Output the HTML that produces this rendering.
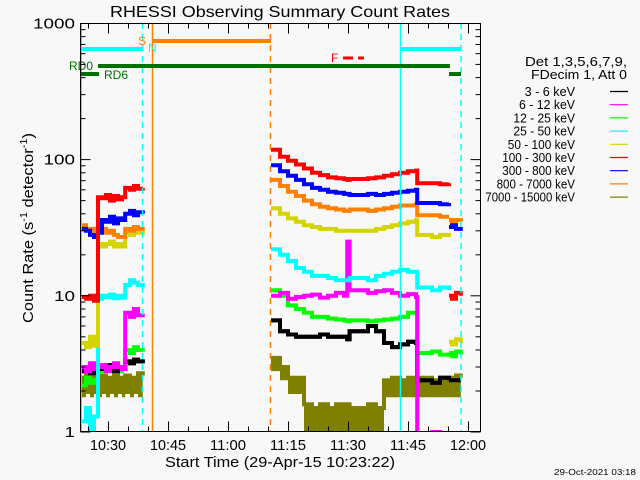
<!DOCTYPE html>
<html><head><meta charset="utf-8"><style>
html,body{margin:0;padding:0;background:#f8f8f8;}
svg{display:block;font-family:"Liberation Sans",sans-serif;}
</style></head><body>
<svg id="chart" width="640" height="480" viewBox="0 0 640 480" xmlns="http://www.w3.org/2000/svg">
<rect x="0" y="0" width="640" height="480" fill="#f8f8f8"/>
<defs><clipPath id="pc"><rect x="81" y="23" width="400" height="409"/></clipPath></defs>
<text x="280" y="17" font-size="16" text-anchor="middle" textLength="340" lengthAdjust="spacingAndGlyphs" fill="#000">RHESSI Observing Summary Count Rates</text>
<g id="series" clip-path="url(#pc)"></g>
<g id="overlay"></g>
<g id="axes"></g>
<text x="280" y="467" font-size="15" text-anchor="middle" textLength="230" lengthAdjust="spacingAndGlyphs">Start Time (29-Apr-15 10:23:22)</text>
<text transform="translate(33,228) rotate(-90)" font-size="15" text-anchor="middle" textLength="190" lengthAdjust="spacingAndGlyphs">Count Rate (s<tspan font-size="10" dy="-6">-1</tspan><tspan dy="6"> detector</tspan><tspan font-size="10" dy="-6">-1</tspan><tspan dy="6">)</tspan></text>
<g id="legend"></g>
<text x="636" y="475" font-size="8" text-anchor="end" textLength="82" lengthAdjust="spacingAndGlyphs">29-Oct-2021 03:18</text>
</svg>
<script>
// minutes since 10:30
const t1 = [-6.6,-5.5,-4.5,-3.5,-2.5,-1.5,-0.5,0.5,1.5,2.5,3.5,4.3,5.5,6.5,7.5,8.7];
const t2 = [40.75,43,45,47,49,51,53,55,57,59,59.8,60.4,65,67,69,71,73,75,77,77.3,81,83,85.25];
const t3 = [85.25,86,87,88.2];
const seriesNames = ["3 - 6 keV","6 - 12 keV","12 - 25 keV","25 - 50 keV","50 - 100 keV","100 - 300 keV","300 - 800 keV","800 - 7000 keV","7000 - 15000 keV"];
const seriesColors = ["#000000","#ff00ff","#00ff00","#00ffff","#d4d400","#ff0000","#0000ff","#ff8000","#808000"];
const black1 = [2.8,3,2.7,2.9,3,2.9,3.1,3,2.8,3,2.9,3.3,3.2,3.4,3.3,3.2];
const black2 = [6.6,5.5,5.2,5,5,5,5.2,5,5,5,4.8,5.5,6,5.5,4.5,4.2,4.4,4.6,4.5,2.4,2.3,2.5,2.4];
const black3 = [2.4,2.4,2.4,2.4];
const magenta1 = [3,2.8,3.2,2.9,3,3.1,2.8,3,3.2,3,2.9,7.5,7,8,7.2,7.4];
const magenta2 = [10,10.5,9.5,9.8,10,10.2,9.7,10,10.5,10,25,11,10.5,10.8,11,10.5,10,10.3,9.8,0.9,1.0,0.9,0.9];
const magenta3 = [0.9,0.9,0.9,0.9];
const green1 = [2.2,2.5,2.3,2.4,3,2.8,3.1,2.9,3,2.8,3,4,3.8,4.2,4,3.9];
const green2 = [11,10,8.5,8,7.5,7,7,6.8,6.7,6.6,6.5,6.6,6.5,6.6,6.7,6.8,7,7.5,7.5,3.8,3.9,3.7,3.8];
const green3 = [3.8,3.6,3.9,3.7];
const cyan1 = [1.2,1.5,1,1.3,9.5,10,9.8,10.2,9.6,10,9.7,12,13,12.5,12,11.5];
const cyan2 = [22,20,18,16,15,14,14,13.5,13,13,13,13.5,13,14,14.5,15,15.5,15,15,11.5,11,11.5,11];
const cyan3 = [0.9,0.9,0.9,0.9];
const yellow1 = [4.5,4.2,5,4.3,24,23,24,25,23,24,23,29,28,30,29,28];
const yellow2 = [44,40,37,35,33,32,31,31,30,30,30,30,30,31,32,33,34,35,36,28,27,28,27];
const yellow3 = [4.6,4.4,4.8,4.5];
const red1 = [9.8,9.5,10,9.2,53,52,55,50,54,51,53,62,60,64,61,62];
const red2 = [118,105,98,92,86,80,77,74,73,72,71,72,73,74,76,78,80,82,83,67,67,66,67];
const red3 = [10,9.5,10.5,10];
const blue1 = [31,30,28,27,29,36,35,38,34,37,36,40,42,39,41,40];
const blue2 = [91,82,76,71,66,62,60,58,57,56,56,55,56,55,56,57,58,59,60,48,48,47,48];
const blue3 = [32,33,31,32];
const orange1 = [33,31,30,31,30,31,29,30,28,27,27,31,30,32,31,30];
const orange2 = [71,64,58,54,50,47,45,44,43,42,42,43,42,43,44,45,46,46,47,39,39,38,38];
const orange3 = [36,34,36,35];
const olive1 = [2.5,2.7,2.3,2.6,2.4,2.6,2.2,2.5,2.7,2.3,2.5,2.6,2.4,2.5,2.7,2.6];
const olive2 = [3.5,3,2.5,2.5,1.6,1.5,1.6,1.5,1.6,1.5,1.6,1.5,1.6,1.5,2.4,2.5,2.4,2.5,2.4,2.5,2.4,2.5,2.4];
const olive3 = [2.5,2.4,2.6,2.5];
const oliveLo1 = [1.8,1.9,1.8,1.9,1.8,1.9,1.8,1.9,1.8,1.9,1.8,1.9,1.8,1.9,1.8,1.9];
const oliveLo2 = [2.8,2.4,1.9,1.9,0.9,0.9,0.9,0.9,0.9,0.9,0.9,0.9,0.9,0.9,1.8,1.8,1.8,1.8,1.8,1.8,1.8,1.8,1.8];
const oliveLo3 = [1.8,1.8,1.8,1.8];
const yTickValues = [1,10,100,1000];
const yTickLabels = ["1","10","100","1000"];
const xTickMinutes = [0,15,30,45,60,75,90];
const xTickLabels = ["10:30","10:45","11:00","11:15","11:30","11:45","12:00"];

const NS = "http://www.w3.org/2000/svg";
function X(t){ return 108 + 4*t; }
function Y(v){ return 432 - 136.2*Math.log10(v); }
function mk(tag, attrs, parent){ const e=document.createElementNS(NS,tag); for(const k in attrs) e.setAttribute(k,attrs[k]); parent.appendChild(e); return e; }
function stepPath(ts, vs){
  let d = "M"+X(ts[0]).toFixed(1)+","+Y(vs[0]).toFixed(1);
  for(let i=1;i<ts.length;i++){ d += " H"+X(ts[i]).toFixed(1)+" V"+Y(vs[i]).toFixed(1); }
  return d;
}
const sg = document.getElementById("series");
[[t1,olive1,oliveLo1],[t2,olive2,oliveLo2],[t3,olive3,oliveLo3]].forEach(function(s,k){
  let d = stepPath(s[0], s[1]);
  for(let i=s[0].length-1;i>=0;i--){ d += " L"+X(s[0][i]).toFixed(1)+","+Y(s[2][i]).toFixed(1); if(i>0) d += " L"+X(s[0][i]).toFixed(1)+","+Y(s[2][i-1]).toFixed(1); }
  const p = mk("path",{d:d+" Z",fill:"#808000"},sg);
  
  
});
const segs = [
  ["black",black1,black2,black3,0],["olive",olive1,olive2,olive3,8],["green",green1,green2,green3,2],["black",black1,black2,black3,0],
  ["magenta",magenta1,magenta2,magenta3,1],["cyan",cyan1,cyan2,cyan3,3],
  ["yellow",yellow1,yellow2,yellow3,4],["orange",orange1,orange2,orange3,7],["blue",blue1,blue2,blue3,6],["red",red1,red2,red3,5]
];
segs.forEach(function(s){
  [[t1,s[1]],[t2,s[2]],[t3,s[3]]].forEach(function(q,k){
    const p = mk("path",{d:stepPath(q[0],q[1]),fill:"none",stroke:seriesColors[s[4]],"stroke-width":4},sg);
    
    
  });
});

const og = document.getElementById("overlay");
function ln(name,x1,y1,x2,y2,c,w,dash){ const e=mk("line",{x1:x1,y1:y1,x2:x2,y2:y2,stroke:c,"stroke-width":w},og); if(dash) e.setAttribute("stroke-dasharray",dash);
  
   }
function tx(name,x,y,s,c,size,anchor){ const e=mk("text",{x:x,y:y,fill:c,"font-size":size,"text-anchor":anchor||"start"},og); e.textContent=s;
  
   }
ln("saa-start-line",81,23,81,432,"#00ffff",2);
ln("night-end-line",400.5,23,400.5,432,"#00ffff",1.5);
ln("night-start-dashed",142.5,23,142.5,432,"#00ffff",1.5,"6,5");
ln("night-start-dashed-2",461,23,461,432,"#00ffff",1.5,"6,5");
ln("saa-orange-line",152.5,23,152.5,432,"#ff8000",1.5);
ln("saa-orange-dashed",270.5,23,270.5,432,"#ff8000",1.5,"6,5");
ln("night-bar-1",81,49,142,49,"#00ffff",4);
ln("night-bar-2",400,49,461,49,"#00ffff",4);
ln("saa-bar",152,41,271,41,"#ff8000",4);
ln("rd0-bar",98,66,450,66,"#007000",4);
ln("rd6-bar-1",81,74,99,74,"#007000",4);
ln("rd6-bar-2",449,74,461,74,"#007000",4);
ln("flare-dash-1",343,58,353,58,"#ff0000",3);
ln("flare-dash-2",358,58,364,58,"#ff0000",3);
tx("rd0-label",69,70,"RD0","#007000",12);
tx("rd6-label",104,79,"RD6","#007000",12);
tx("s-label",138,45,"S","#ff8000",12);
tx("n-label",148,52,"N","#00ffff",12);
tx("f-label",331,62,"F","#ff0000",12);

const ag = document.getElementById("axes");
const box = mk("rect",{x:80.5,y:23.5,width:400,height:408,fill:"none",stroke:"#000","stroke-width":1},ag);


for(let dec=0;dec<3;dec++){
  for(let m=1;m<10;m++){
    const v = m*Math.pow(10,dec); const y=Y(v); const L = m===1?10:5;
    const a = mk("line",{x1:80.5,y1:y,x2:80.5+L,y2:y,stroke:"#000"},ag);
    
    
    const b = mk("line",{x1:480.5,y1:y,x2:480.5-L,y2:y,stroke:"#000"},ag);
    
    
  }
}
yTickValues.forEach(function(v,i){
  const e = mk("text",{x:75,y:Y(v)+5,"font-size":15,"text-anchor":"end",textLength:yTickLabels[i].length*10.5,lengthAdjust:"spacingAndGlyphs"},ag);
  e.textContent = yTickLabels[i];
  
  
});
for(let t=-5;t<=90;t+=5){
  const x = X(t)+0.5; const L = (t%15===0)?10:5;
  const a = mk("line",{x1:x,y1:431.5,x2:x,y2:431.5-L,stroke:"#000"},ag);
  
  
  const b = mk("line",{x1:x,y1:23.5,x2:x,y2:23.5+L,stroke:"#000"},ag);
  
  
}
xTickMinutes.forEach(function(t,i){
  const e = mk("text",{x:X(t),y:450,"font-size":15,"text-anchor":"middle",textLength:36,lengthAdjust:"spacingAndGlyphs"},ag);
  e.textContent = xTickLabels[i];
  
  
});

const lg = document.getElementById("legend");
function lt(name,x,y,s,len){ const e=mk("text",{x:x,y:y,"font-size":13,"text-anchor":"end",textLength:len,lengthAdjust:"spacingAndGlyphs"},lg); e.textContent=s;
  
   }
lt("legend-detectors",627,66,"Det 1,3,5,6,7,9,",102);
lt("legend-decim",627,79,"FDecim 1, Att 0",96);
seriesNames.forEach(function(n,i){
  const y = 91.5 + i*13.2;
  const e = mk("text",{x:575,y:y+4.5,"font-size":13,"text-anchor":"end",textLength:n.length*5.6,lengthAdjust:"spacingAndGlyphs"},lg);
  e.textContent = n;
  
  
  const l = mk("line",{x1:610,y1:y,x2:628,y2:y,stroke:seriesColors[i],"stroke-width":1.2},lg);
  
  
});
</script>
</body></html>
